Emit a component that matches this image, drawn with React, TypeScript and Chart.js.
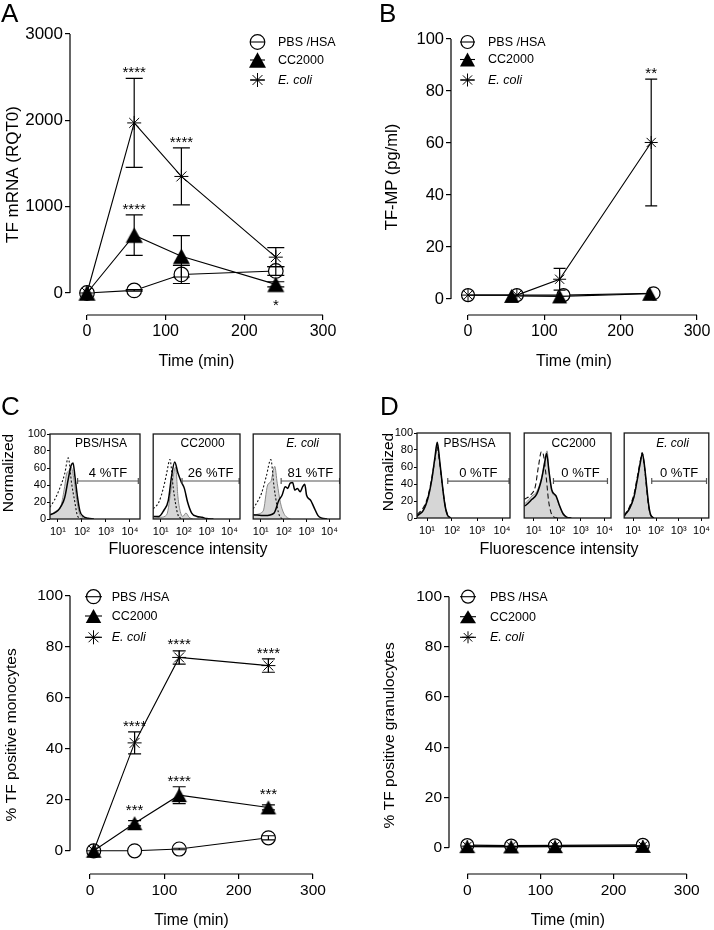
import React, { useEffect, useRef } from 'react';
import { Chart, registerables } from 'chart.js';

Chart.register(...registerables);

const FONT = '"Liberation Sans", Arial, Helvetica, sans-serif';
Chart.defaults.font.family = FONT;

// ===================== DATA =====================
// Panel A: TF mRNA (RQT0)
const timeA = [0, 60, 120, 240];
const pbsA = [0, 30, 215, 255];
const pbsSemA = [0, 8, 105, 50];
const ccA = [0, 670, 425, 100];
const ccSemA = [0, 235, 240, 30];
const ecoliA = [0, 1970, 1350, 415];
const ecoliSemA = [0, 515, 330, 110];
const ccSigA = ['', '****', '', ''];
const ccSigBelowA = ['', '', '', '*'];
const ecoliSigA = ['', '****', '****', ''];
const yTicksA = [0, 1000, 2000, 3000];
const xTicksTime = [0, 100, 200, 300];

// Panel B: TF-MP (pg/ml)
const pbsTimeB = [0, 64, 125, 243];
const pbsB = [1.5, 1.5, 1.5, 2.2];
const ccTimeB = [57, 120, 238];
const ccB = [1.2, 1.0, 2.0];
const ecoliTimeB = [0, 64, 120, 240];
const ecoliB = [1.5, 1.5, 7.6, 60.2];
const ecoliSemB = [0, 0, 4.2, 24.4];
const ecoliSigB = ['', '', '', '**'];
const yTicksB = [0, 20, 40, 60, 80, 100];

// Panel C (bottom): % TF positive monocytes
const timeC = [5, 60, 120, 240];
const pbsC = [0, 0, 0.7, 5.1];
const pbsSemC = [0, 0, 0.3, 0.8];
const ccC = [0, 10.8, 21.8, 17];
const ccSemC = [0, 1, 3.3, 1];
const ecoliC = [0, 42.3, 75.8, 72.6];
const ecoliSemC = [0, 4.3, 2.6, 2.6];
const ccSigC = ['', '***', '****', '***'];
const ecoliSigC = ['', '****', '****', '****'];
const yTicksPct = [0, 20, 40, 60, 80, 100];

// Panel D (bottom): % TF positive granulocytes
const timeD = [0, 60, 120, 240];
const pbsD = [1.0, 0.8, 0.9, 1.1];
const ccD = [0.4, 0.3, 0.4, 0.5];
const ecoliD = [0.6, 0.5, 0.6, 0.7];

// Histograms: [log10(intensity), normalized count]
const cPbsSolid = [[0.67, 5], [0.85, 7], [1.0, 10], [1.15, 16], [1.28, 25], [1.43, 47], [1.55, 63], [1.63, 66], [1.71, 50], [1.81, 27], [1.92, 9], [2.06, 3], [2.25, 1], [2.5, 0]];
const cPbsIso = [[0.67, 14], [0.85, 22], [1.06, 35], [1.28, 53], [1.43, 72], [1.57, 42], [1.71, 19], [1.8, 5], [1.9, 1], [2.05, 0]];
const cPbsFill = [[0.67, 5], [0.9, 9], [1.13, 16], [1.28, 38], [1.36, 53], [1.47, 57], [1.55, 61], [1.67, 46], [1.78, 23], [1.88, 8], [2.0, 2], [2.2, 0]];

const cCcSolid = [[0.67, 3], [0.92, 3], [1.13, 10], [1.33, 22], [1.47, 50], [1.61, 67], [1.75, 54], [1.89, 44], [2.03, 36], [2.17, 20], [2.35, 7], [2.58, 3], [2.8, 2], [3.0, 0.5], [3.3, 0]];
const cCcIso = [[0.67, 12], [0.92, 20], [1.13, 38], [1.26, 54], [1.4, 70], [1.54, 38], [1.64, 19], [1.75, 5], [1.9, 0]];
const cCcFill = [[0.67, 1], [1.0, 2], [1.26, 5], [1.47, 38], [1.65, 61], [1.75, 26], [1.85, 9], [1.96, 3], [2.1, 7], [2.24, 2], [2.4, 0]];

const cEcSolid = [[0.67, 5], [1.17, 4], [1.58, 7], [1.79, 22], [1.93, 28], [2.07, 38], [2.18, 36], [2.28, 42], [2.39, 43], [2.49, 34], [2.6, 36], [2.72, 32], [2.83, 38], [2.92, 41], [3.0, 28], [3.18, 22], [3.32, 14], [3.5, 4], [3.67, 1], [3.9, 0]];
const cEcIso = [[0.67, 12], [1.03, 30], [1.24, 50], [1.44, 70], [1.58, 38], [1.72, 14], [1.83, 3], [2.0, 0]];
const cEcFill = [[0.67, 5], [1.1, 9], [1.3, 40], [1.44, 44], [1.61, 62], [1.72, 42], [1.86, 19], [2.0, 7], [2.14, 2], [2.3, 0]];

const dPbsSolid = [[0.6, 2], [0.65, 3.5], [0.85, 9], [1.05, 25], [1.19, 45], [1.32, 72], [1.41, 89], [1.52, 64], [1.63, 35], [1.72, 15], [1.81, 4], [1.95, 0]];
const dPbsIso = [[0.6, 4], [0.85, 12], [1.05, 27], [1.19, 47], [1.32, 70], [1.4, 84], [1.5, 66], [1.62, 37], [1.72, 16], [1.82, 4], [1.95, 0]];
const dPbsFill = [[0.6, 2], [0.85, 8], [1.05, 23], [1.19, 43], [1.32, 70], [1.41, 87], [1.52, 62], [1.63, 33], [1.72, 13], [1.81, 3], [1.95, 0]];

const dCcSolid = [[0.6, 14], [0.67, 15], [0.93, 22], [1.13, 28], [1.33, 45], [1.47, 65], [1.55, 76], [1.65, 55], [1.77, 33], [1.95, 26], [2.08, 16], [2.25, 5], [2.4, 1], [2.6, 0]];
const dCcIso = [[0.6, 22], [0.67, 23], [0.87, 27], [1.07, 37], [1.2, 60], [1.33, 78], [1.4, 76], [1.53, 49], [1.63, 21], [1.73, 7], [1.87, 1], [2.0, 0]];
const dCcFill = [[0.6, 17], [0.67, 18], [0.93, 26], [1.13, 31], [1.33, 47], [1.47, 68], [1.57, 79], [1.65, 56], [1.77, 31], [1.95, 25], [2.08, 15], [2.25, 4], [2.45, 0]];

const dEcSolid = [[0.6, 2], [0.63, 3.5], [0.83, 11], [1.03, 25], [1.16, 43], [1.3, 64], [1.4, 76], [1.5, 60], [1.59, 37], [1.67, 17], [1.76, 4], [1.9, 0]];
const dEcIso = [[0.6, 3], [0.83, 13], [1.03, 28], [1.16, 46], [1.3, 66], [1.39, 77], [1.49, 60], [1.58, 36], [1.66, 16], [1.75, 4], [1.9, 0]];
const dEcFill = [[0.6, 2], [0.83, 10], [1.03, 24], [1.16, 42], [1.3, 63], [1.4, 75], [1.5, 59], [1.59, 36], [1.67, 16], [1.76, 3], [1.9, 0]];

const histTicksX = [10, 100, 1000, 10000];
const histTicksY = [0, 20, 40, 60, 80, 100];
const histTickLabels: Record<number, string> = { 10: '10\u00b9', 100: '10\u00b2', 1000: '10\u00b3', 10000: '10\u2074' };

// ===================== TYPES =====================
type Sym = 'circle' | 'triangle' | 'star';
interface Series {
  label: string; italic?: boolean; sym: Sym;
  x: number[]; y: number[]; sem?: number[];
  sigAbove?: string[]; sigBelow?: string[];
}
interface LineSpec {
  box: [number, number, number, number];
  pad: [number, number, number];
  yW: number; xH: number;
  xRange: [number, number]; xTicks: number[];
  yRange: [number, number]; yTicks: number[];
  yTitle: string; xTitle: string;
  yTitleSize: number; xTitleSize: number; yTickSize: number; xTickSize: number;
  series: Series[];
  legend: { order: number[]; rows: number[]; x0: number; x1: number; tx: number; size: number };
  mk: { circle: number; tri: [number, number]; star: number; cap: number };
  sigSize: number; sigBelow: number;
}
interface HistSpec {
  box: [number, number, number, number];
  showY: boolean; range: [number, number];
  title: string; italic?: boolean; titleDy: number;
  solid: number[][]; iso: number[][]; fill: number[][]; dash: number[];
  gate: [number, number]; gateY: number; gateLabel: string;
}

// ===================== SPECS =====================
const seriesSet = (
  t1: number[], cc: number[], ccS: number[] | undefined, ccUp: string[] | undefined, ccDn: string[] | undefined,
  t2: number[], ec: number[], ecS: number[] | undefined, ecUp: string[] | undefined,
  t3: number[], pb: number[], pbS: number[] | undefined,
): Series[] => [
  { label: 'CC2000', sym: 'triangle', x: t1, y: cc, sem: ccS, sigAbove: ccUp, sigBelow: ccDn },
  { label: 'E. coli', italic: true, sym: 'star', x: t2, y: ec, sem: ecS, sigAbove: ecUp },
  { label: 'PBS /HSA', sym: 'circle', x: t3, y: pb, sem: pbS },
];

const lineSpecs: LineSpec[] = [
  {
    box: [0, 0, 360, 371], pad: [2.8, 34, 37], yW: 67.2, xH: 56,
    xRange: [-21.6, 300], xTicks: xTicksTime, yRange: [-255, 3000], yTicks: yTicksA,
    yTitle: 'TF mRNA (RQT0)', xTitle: 'Time (min)', yTitleSize: 17, xTitleSize: 16, yTickSize: 17, xTickSize: 16,
    series: seriesSet(timeA, ccA, ccSemA, ccSigA, ccSigBelowA, timeA, ecoliA, ecoliSemA, ecoliSigA, timeA, pbsA, pbsSemA),
    legend: { order: [2, 0, 1], rows: [42, 60, 80], x0: 250, x1: 265, tx: 278, size: 12.5 },
    mk: { circle: 7.3, tri: [17, 15.5], star: 7, cap: 8.5 }, sigSize: 15, sigBelow: 26,
  },
  {
    box: [360, 0, 354, 371], pad: [22.1, 39, 17], yW: 68.9, xH: 56,
    xRange: [-22.3, 300], xTicks: xTicksTime, yRange: [-6.15, 100], yTicks: yTicksB,
    yTitle: 'TF-MP (pg/ml)', xTitle: 'Time (min)', yTitleSize: 16.5, xTitleSize: 16, yTickSize: 16.5, xTickSize: 16,
    series: seriesSet(ccTimeB, ccB, undefined, undefined, undefined, ecoliTimeB, ecoliB, ecoliSemB, ecoliSigB, pbsTimeB, pbsB, undefined),
    legend: { order: [2, 0, 1], rows: [42, 59.5, 80], x0: 100, x1: 115, tx: 128, size: 12.5 },
    mk: { circle: 6.5, tri: [15, 14], star: 6.5, cap: 6 }, sigSize: 15, sigBelow: 26,
  },
  {
    box: [0, 560, 360, 370], pad: [2.7, 35.7, 47], yW: 67.3, xH: 56,
    xRange: [-26.9, 300], xTicks: xTicksTime, yRange: [-9.1, 100], yTicks: yTicksPct,
    yTitle: '% TF positive monocytes', xTitle: 'Time (min)', yTitleSize: 15.5, xTitleSize: 15.7, yTickSize: 15.5, xTickSize: 15.5,
    series: seriesSet(timeC, ccC, ccSemC, ccSigC, undefined, timeC, ecoliC, ecoliSemC, ecoliSigC, timeC, pbsC, pbsSemC),
    legend: { order: [2, 0, 1], rows: [36.7, 56, 77.3], x0: 85, x1: 102, tx: 111.7, size: 12.5 },
    mk: { circle: 7, tri: [15.5, 14], star: 7, cap: 6.5 }, sigSize: 15, sigBelow: 26,
  },
  {
    box: [360, 560, 354, 370], pad: [20.7, 36.7, 27.3], yW: 68.3, xH: 56,
    xRange: [-25, 300], xTicks: xTicksTime, yRange: [-10.5, 100], yTicks: yTicksPct,
    yTitle: '% TF positive granulocytes', xTitle: 'Time (min)', yTitleSize: 15.5, xTitleSize: 15.7, yTickSize: 15.5, xTickSize: 15.5,
    series: seriesSet(timeD, ccD, undefined, undefined, undefined, timeD, ecoliD, undefined, undefined, timeD, pbsD, undefined),
    legend: { order: [2, 0, 1], rows: [36.7, 56.7, 77.3], x0: 100, x1: 116, tx: 130, size: 12.5 },
    mk: { circle: 6.5, tri: [16, 13], star: 6, cap: 6 }, sigSize: 15, sigBelow: 26,
  },
];

const histSpecs: HistSpec[] = [
  { box: [50, 434, 140, 519], showY: true, range: [0.67, 4.42], title: 'PBS/HSA', titleDy: 9.3, solid: cPbsSolid, iso: cPbsIso, fill: cPbsFill, dash: [2, 2], gate: [1.82, 4.35], gateY: 44.7, gateLabel: '4 %TF' },
  { box: [148, 434, 240, 519], showY: false, range: [0.67, 4.46], title: 'CC2000', titleDy: 9.3, solid: cCcSolid, iso: cCcIso, fill: cCcFill, dash: [2, 2], gate: [1.93, 4.42], gateY: 44.7, gateLabel: '26 %TF' },
  { box: [248, 434, 340, 519], showY: false, range: [0.67, 4.46], title: 'E. coli', italic: true, titleDy: 9.3, solid: cEcSolid, iso: cEcIso, fill: cEcFill, dash: [2, 2], gate: [1.89, 4.44], gateY: 44.7, gateLabel: '81 %TF' },
  { box: [417, 433, 510, 518], showY: true, range: [0.6, 4.32], title: 'PBS/HSA', titleDy: 10.3, solid: dPbsSolid, iso: dPbsIso, fill: dPbsFill, dash: [5, 3], gate: [1.83, 4.28], gateY: 43.5, gateLabel: '0 %TF' },
  { box: [519, 433, 611, 518], showY: false, range: [0.6, 4.28], title: 'CC2000', titleDy: 10.3, solid: dCcSolid, iso: dCcIso, fill: dCcFill, dash: [5, 3], gate: [1.84, 4.13], gateY: 43.5, gateLabel: '0 %TF' },
  { box: [619, 433, 712, 518], showY: false, range: [0.6, 4.32], title: 'E. coli', italic: true, titleDy: 10.3, solid: dEcSolid, iso: dEcIso, fill: dEcFill, dash: [5, 3], gate: [1.81, 4.22], gateY: 43.5, gateLabel: '0 %TF' },
];

const HIST_YW = 26, HIST_PT = 8, HIST_XH = 24;
const histCanvas = (h: HistSpec) => {
  const yW = h.showY ? HIST_YW : 0;
  const padR = Math.min(10, 714 - h.box[2]);
  return {
    left: h.box[0] - yW, top: h.box[1] - HIST_PT,
    width: yW + (h.box[2] - h.box[0]) + padR, height: HIST_PT + (h.box[3] - h.box[1]) + HIST_XH, padR, yW,
  };
};

// ===================== DRAWING HELPERS =====================
function triImage(w: number, h: number): HTMLCanvasElement {
  const c = document.createElement('canvas');
  c.width = Math.ceil(w) + 2; c.height = Math.ceil(h) + 2;
  const g = c.getContext('2d')!;
  g.fillStyle = '#000';
  g.beginPath();
  g.moveTo(c.width / 2, (c.height - h) / 2);
  g.lineTo(c.width / 2 + w / 2, (c.height + h) / 2);
  g.lineTo(c.width / 2 - w / 2, (c.height + h) / 2);
  g.closePath(); g.fill();
  return c;
}

function drawSym(ctx: CanvasRenderingContext2D, sym: Sym, x: number, y: number, mk: LineSpec['mk']) {
  ctx.beginPath();
  if (sym === 'circle') {
    ctx.arc(x, y, mk.circle, 0, Math.PI * 2); ctx.stroke();
  } else if (sym === 'triangle') {
    const [w, h] = mk.tri;
    ctx.moveTo(x, y - h / 2); ctx.lineTo(x + w / 2, y + h / 2); ctx.lineTo(x - w / 2, y + h / 2);
    ctx.closePath(); ctx.fill();
  } else {
    for (let k = 0; k < 4; k++) {
      const a = (k * Math.PI) / 4;
      ctx.moveTo(x - mk.star * Math.cos(a), y - mk.star * Math.sin(a));
      ctx.lineTo(x + mk.star * Math.cos(a), y + mk.star * Math.sin(a));
    }
    ctx.stroke();
  }
}

function makeLine(canvas: HTMLCanvasElement, s: LineSpec): Chart {
  const tri = triImage(s.mk.tri[0], s.mk.tri[1]);
  const datasets = s.series.map((se) => ({
    label: se.label,
    data: se.x.map((xv, i) => ({ x: xv, y: se.y[i] })),
    showLine: true,
    borderColor: '#000',
    borderWidth: 1.1,
    pointStyle: se.sym === 'triangle' ? tri : se.sym === 'star' ? 'star' : 'circle',
    pointRadius: se.sym === 'circle' ? s.mk.circle : se.sym === 'star' ? s.mk.star : 8,
    pointBorderWidth: se.sym === 'star' ? 1 : 1.2,
    pointBorderColor: '#000',
    pointBackgroundColor: se.sym === 'circle' ? '#fff' : '#000',
  }));
  const halfH = (sym: Sym) => (sym === 'circle' ? s.mk.circle + 0.6 : sym === 'triangle' ? s.mk.tri[1] / 2 : s.mk.star);

  const decor = {
    id: 'decor',
    beforeDatasetsDraw(chart: any) {
      const { ctx, chartArea: a } = chart;
      const xs = chart.scales.x, ys = chart.scales.y;
      ctx.save();
      ctx.strokeStyle = '#000'; ctx.lineWidth = 1.2;
      ctx.beginPath();
      ctx.moveTo(a.left, ys.getPixelForValue(s.yTicks[s.yTicks.length - 1]));
      ctx.lineTo(a.left, ys.getPixelForValue(s.yTicks[0]));
      ctx.moveTo(xs.getPixelForValue(s.xTicks[0]), a.bottom);
      ctx.lineTo(xs.getPixelForValue(s.xTicks[s.xTicks.length - 1]), a.bottom);
      ctx.stroke();
      ctx.restore();
    },
    afterDatasetsDraw(chart: any) {
      const { ctx } = chart;
      const xs = chart.scales.x, ys = chart.scales.y;
      ctx.save();
      ctx.strokeStyle = '#000'; ctx.fillStyle = '#000'; ctx.lineWidth = 1.2;
      s.series.forEach((se) => {
        se.x.forEach((xv, j) => {
          const v = se.y[j];
          const e = se.sem ? se.sem[j] : 0;
          const xp = xs.getPixelForValue(xv);
          if (e > 0) {
            const y1 = ys.getPixelForValue(v + e), y2 = ys.getPixelForValue(v - e);
            ctx.beginPath();
            ctx.moveTo(xp, y1); ctx.lineTo(xp, y2);
            ctx.moveTo(xp - s.mk.cap, y1); ctx.lineTo(xp + s.mk.cap, y1);
            ctx.moveTo(xp - s.mk.cap, y2); ctx.lineTo(xp + s.mk.cap, y2);
            ctx.stroke();
          }
          ctx.font = `${s.sigSize}px ${FONT}`;
          ctx.textAlign = 'center'; ctx.textBaseline = 'alphabetic';
          const up = se.sigAbove ? se.sigAbove[j] : '';
          if (up) {
            const top = Math.min(ys.getPixelForValue(v + e), ys.getPixelForValue(v) - halfH(se.sym));
            ctx.fillText(up, xp, top - 1);
          }
          const dn = se.sigBelow ? se.sigBelow[j] : '';
          if (dn) ctx.fillText(dn, xp, ys.getPixelForValue(v) + s.sigBelow);
        });
      });
      ctx.restore();
    },
    afterDraw(chart: any) {
      const { ctx } = chart;
      const L = s.legend;
      ctx.save();
      ctx.strokeStyle = '#000'; ctx.fillStyle = '#000'; ctx.lineWidth = 1.1;
      L.order.forEach((idx, r) => {
        const se = s.series[idx];
        const y = L.rows[r];
        ctx.beginPath(); ctx.moveTo(L.x0, y); ctx.lineTo(L.x1, y); ctx.stroke();
        ctx.lineWidth = se.sym === 'star' ? 1 : 1.2;
        drawSym(ctx, se.sym, (L.x0 + L.x1) / 2, y, s.mk);
        ctx.lineWidth = 1.1;
        ctx.font = `${se.italic ? 'italic ' : ''}${L.size}px ${FONT}`;
        ctx.textAlign = 'left'; ctx.textBaseline = 'middle';
        ctx.fillText(se.label, L.tx, y + 0.5);
      });
      ctx.restore();
    },
  };

  const tickFmt = (v: any) => String(v);
  return new Chart(canvas, {
    type: 'scatter',
    data: { datasets: datasets as any },
    options: {
      responsive: false, animation: false, events: [],
      layout: { padding: { left: s.pad[0], top: s.pad[1], right: s.pad[2], bottom: 0 } },
      plugins: { legend: { display: false }, tooltip: { enabled: false } },
      scales: {
        x: {
          type: 'linear', min: s.xRange[0], max: s.xRange[1],
          afterBuildTicks: (sc: any) => { sc.ticks = s.xTicks.map((v) => ({ value: v })); },
          afterFit: (sc: any) => { sc.height = s.xH; },
          grid: { display: true, drawOnChartArea: false, drawTicks: true, tickLength: 5, color: '#000', lineWidth: 1.2 },
          border: { display: false },
          ticks: { color: '#000', font: { family: FONT, size: s.xTickSize }, padding: 2, maxRotation: 0, autoSkip: false, callback: tickFmt },
          title: { display: true, text: s.xTitle, color: '#000', font: { family: FONT, size: s.xTitleSize }, padding: 0 },
        },
        y: {
          type: 'linear', min: s.yRange[0], max: s.yRange[1],
          afterBuildTicks: (sc: any) => { sc.ticks = s.yTicks.map((v) => ({ value: v })); },
          afterFit: (sc: any) => { sc.width = s.yW; },
          grid: { display: true, drawOnChartArea: false, drawTicks: true, tickLength: 5, color: '#000', lineWidth: 1.2 },
          border: { display: false },
          ticks: { color: '#000', font: { family: FONT, size: s.yTickSize }, padding: 2, autoSkip: false, callback: tickFmt },
          title: { display: true, text: s.yTitle, color: '#000', font: { family: FONT, size: s.yTitleSize }, padding: 0 },
        },
      },
    } as any,
    plugins: [decor as any],
  });
}

function makeHist(canvas: HTMLCanvasElement, h: HistSpec): Chart {
  const geo = histCanvas(h);
  const toPts = (c: number[][]) => c.map(([e, v]) => ({ x: Math.pow(10, e), y: v }));
  const datasets = [
    {
      data: [{ x: Math.pow(10, h.gate[0]), y: h.gateY }, { x: Math.pow(10, h.gate[1]), y: h.gateY }],
      borderColor: '#555', borderWidth: 1.2, pointStyle: 'line', pointRotation: 90, pointRadius: 3,
      pointBorderWidth: 1.2, pointBorderColor: '#555', fill: false,
    },
    { data: toPts(h.solid), borderColor: '#000', borderWidth: 1.5, pointRadius: 0, cubicInterpolationMode: 'monotone', fill: false },
    { data: toPts(h.iso), borderColor: '#111', borderWidth: 1.1, borderDash: h.dash, pointRadius: 0, cubicInterpolationMode: 'monotone', fill: false },
    { data: toPts(h.fill), borderColor: '#8a8a8a', borderWidth: 1, backgroundColor: '#d6d6d6', fill: 'origin', pointRadius: 0, cubicInterpolationMode: 'monotone' },
  ];
  const decor = {
    id: 'histDecor',
    afterDraw(chart: any) {
      const { ctx, chartArea: a } = chart;
      const xs = chart.scales.x, ys = chart.scales.y;
      ctx.save();
      ctx.strokeStyle = '#1a1a1a'; ctx.lineWidth = 1.3;
      ctx.strokeRect(a.left, a.top, a.right - a.left, a.bottom - a.top);
      ctx.fillStyle = '#000';
      ctx.textAlign = 'center'; ctx.textBaseline = 'middle';
      ctx.font = `${h.italic ? 'italic ' : ''}12px ${FONT}`;
      ctx.fillText(h.title, (a.left + a.right) / 2 + 6, a.top + h.titleDy);
      ctx.font = `13px ${FONT}`;
      const gx = (xs.getPixelForValue(Math.pow(10, h.gate[0])) + xs.getPixelForValue(Math.pow(10, h.gate[1]))) / 2;
      ctx.fillText(h.gateLabel, gx, ys.getPixelForValue(h.gateY) - 7.7);
      ctx.restore();
    },
  };
  const yScale: any = {
    display: h.showY, type: 'linear', min: 0, max: 100,
    afterBuildTicks: (sc: any) => { sc.ticks = histTicksY.map((v) => ({ value: v })); },
    grid: { display: true, drawOnChartArea: false, drawTicks: true, tickLength: 3, color: '#000', lineWidth: 1 },
    border: { display: false },
    ticks: { color: '#000', font: { family: FONT, size: 11 }, padding: 1, autoSkip: false },
  };
  if (h.showY) yScale.afterFit = (sc: any) => { sc.width = HIST_YW; };
  return new Chart(canvas, {
    type: 'line',
    data: { datasets: datasets as any },
    options: {
      responsive: false, animation: false, events: [],
      layout: { padding: { left: 0, top: HIST_PT, right: geo.padR, bottom: 0 } },
      plugins: { legend: { display: false }, tooltip: { enabled: false } },
      scales: {
        x: {
          type: 'logarithmic', min: Math.pow(10, h.range[0]), max: Math.pow(10, h.range[1]),
          afterBuildTicks: (sc: any) => { sc.ticks = histTicksX.map((v) => ({ value: v })); },
          afterFit: (sc: any) => { sc.height = HIST_XH; },
          grid: { display: true, drawOnChartArea: false, drawTicks: true, tickLength: 3, color: '#000', lineWidth: 1 },
          border: { display: false },
          ticks: { color: '#000', font: { family: FONT, size: 11 }, padding: 3, maxRotation: 0, autoSkip: false, callback: (v: any) => histTickLabels[v] ?? '' },
        },
        y: yScale,
      },
    } as any,
    plugins: [decor as any],
  });
}

// ===================== COMPONENT =====================
const panelLetters = [
  { t: 'A', x: 1, y: 0 }, { t: 'B', x: 379, y: 0 }, { t: 'C', x: 1, y: 393 }, { t: 'D', x: 380, y: 393 },
];
const normalizedLabels = [{ x: 8.3, y: 472.5 }, { x: 387.5, y: 472 }];
const fluorLabels = [{ x: 188, y: 549.3 }, { x: 559, y: 549.3 }];

export default function App() {
  const refs = useRef<(HTMLCanvasElement | null)[]>([]);
  useEffect(() => {
    const charts: Chart[] = [];
    lineSpecs.forEach((s, i) => { const c = refs.current[i]; if (c) charts.push(makeLine(c, s)); });
    histSpecs.forEach((h, i) => { const c = refs.current[lineSpecs.length + i]; if (c) charts.push(makeHist(c, h)); });
    return () => charts.forEach((c) => c.destroy());
  }, []);

  const centered = (x: number, y: number, rot: boolean): React.CSSProperties => ({
    position: 'absolute', left: x, top: y, whiteSpace: 'nowrap', lineHeight: 1,
    transform: `translate(-50%, -50%)${rot ? ' rotate(-90deg)' : ''}`,
  });

  return (
    <div style={{ position: 'absolute', left: 0, top: 0, width: 714, height: 930, background: '#fff', overflow: 'hidden', fontFamily: FONT, color: '#000' }}>
      {lineSpecs.map((s, i) => (
        <canvas key={'l' + i} ref={(el) => { refs.current[i] = el; }} width={s.box[2]} height={s.box[3]}
          style={{ position: 'absolute', left: s.box[0], top: s.box[1], width: s.box[2], height: s.box[3] }} />
      ))}
      {histSpecs.map((h, i) => {
        const g = histCanvas(h);
        return (
          <canvas key={'h' + i} ref={(el) => { refs.current[lineSpecs.length + i] = el; }} width={g.width} height={g.height}
            style={{ position: 'absolute', left: g.left, top: g.top, width: g.width, height: g.height }} />
        );
      })}
      {panelLetters.map((p) => (
        <div key={p.t} style={{ position: 'absolute', left: p.x, top: p.y, fontSize: 26, lineHeight: 1 }}>{p.t}</div>
      ))}
      {normalizedLabels.map((p, i) => (
        <div key={'n' + i} style={{ ...centered(p.x, p.y, true), fontSize: 15.5 }}>Normalized</div>
      ))}
      {fluorLabels.map((p, i) => (
        <div key={'f' + i} style={{ ...centered(p.x, p.y, false), fontSize: 16 }}>Fluorescence intensity</div>
      ))}
    </div>
  );
}
